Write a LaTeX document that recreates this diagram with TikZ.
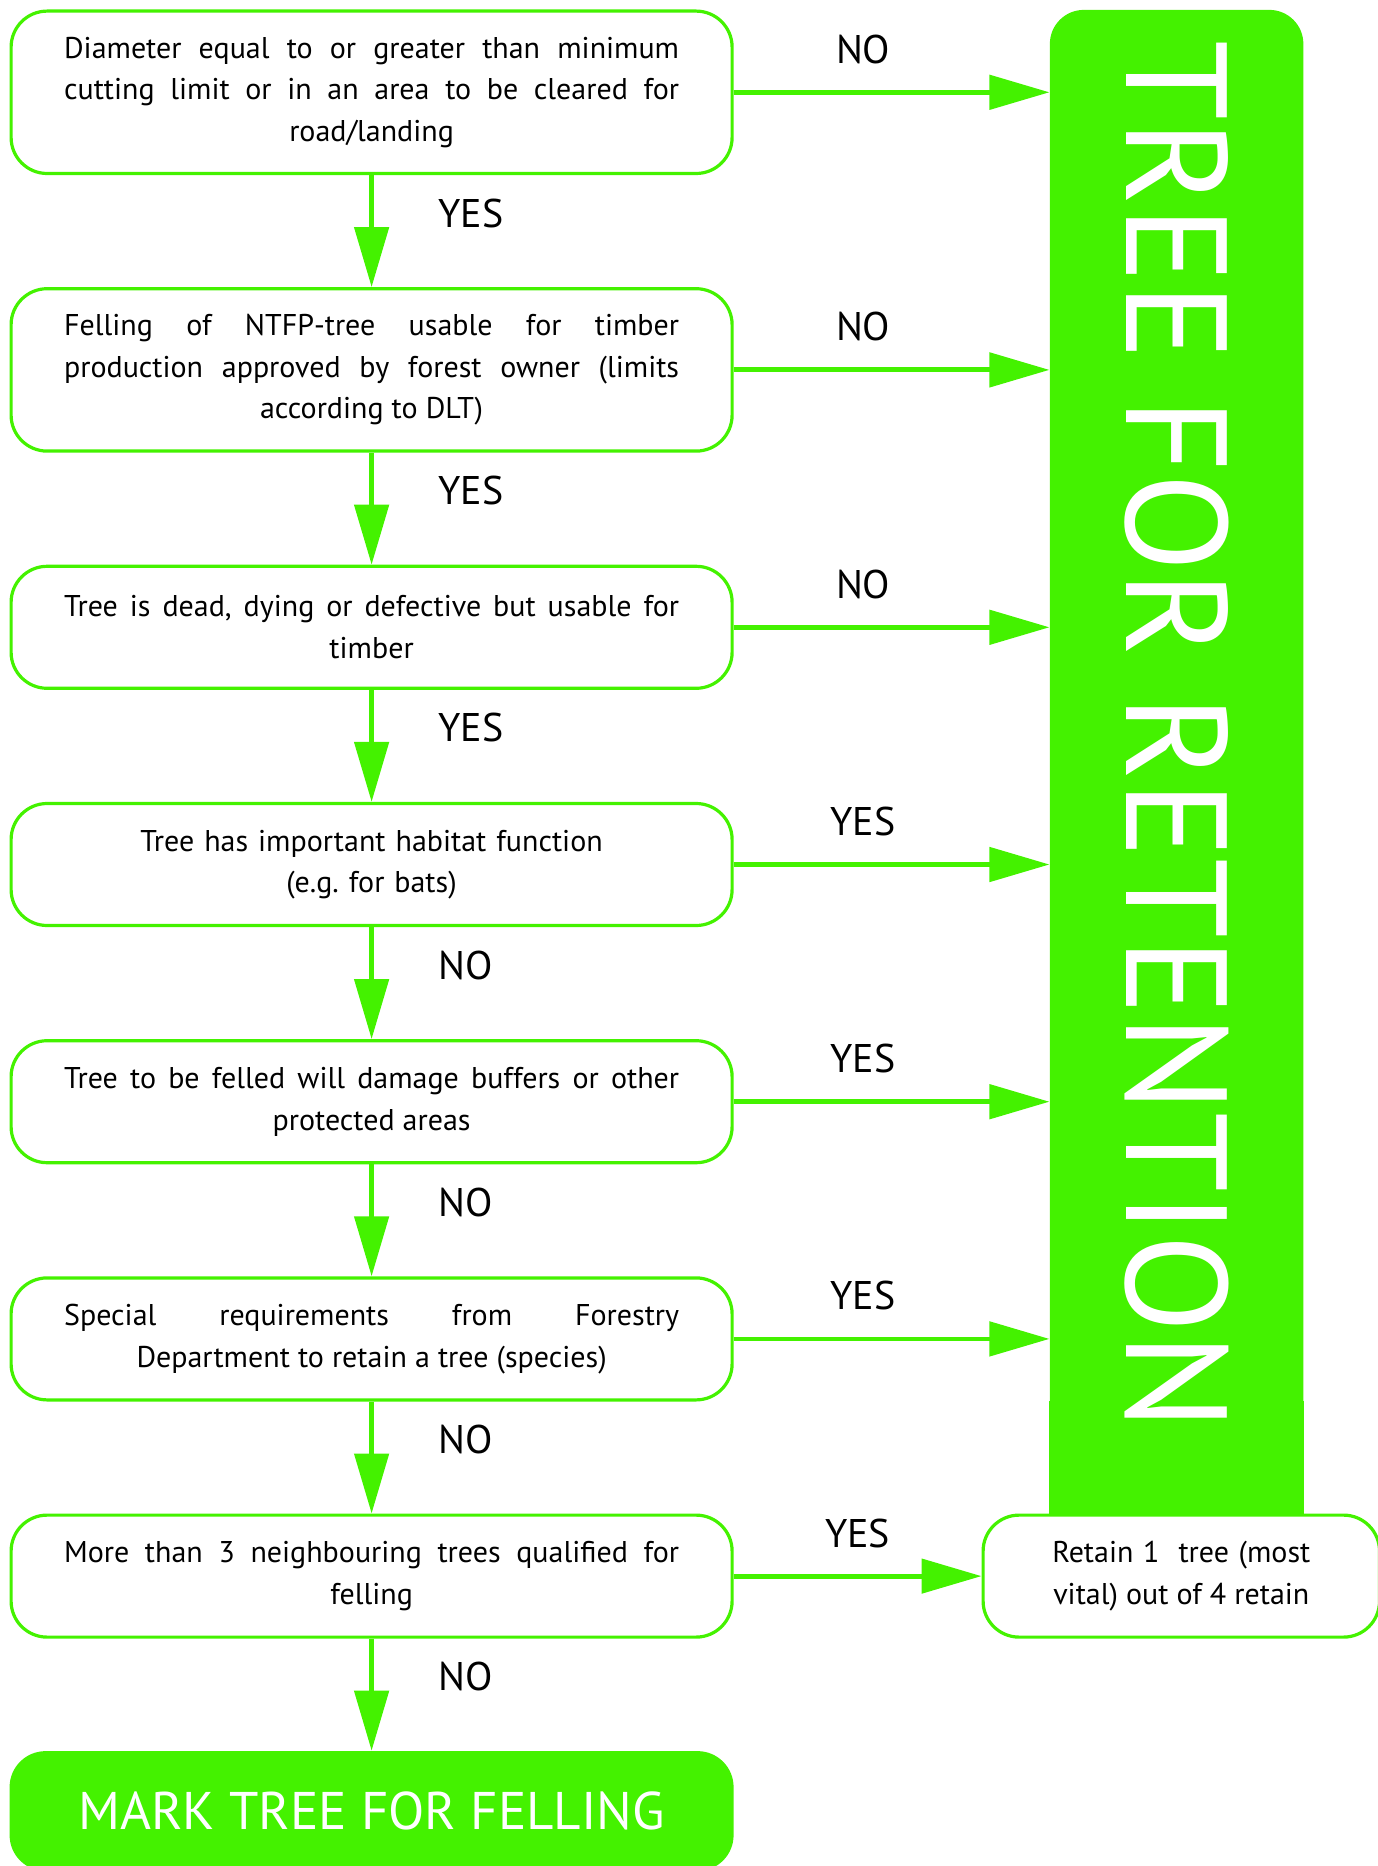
\documentclass[tikz,border=0pt]{standalone}
\usepackage{fontspec}
\setmainfont{PT Sans}
\usepackage{tikz}
\usetikzlibrary{shapes.geometric, arrows.meta, positioning, backgrounds}
\usepackage{xcolor}
\frenchspacing
\definecolor{leafgreen}{RGB}{68,242,0}
\newcommand{\justcentred}[1]{\parindent=0pt\spaceskip=0.27em plus 1em minus 0.08em\leftskip=0pt plus 1fil\rightskip=0pt plus -1fil\parfillskip=0pt plus 2fil\relax#1\par}
\tikzstyle{flowbox} = [rectangle, rounded corners=18pt, draw=leafgreen, line width=1.6pt, fill=white, text width=307.5pt, inner xsep=26.5pt, inner ysep=6pt, minimum height=61pt, font=\fontsize{15pt}{20.8pt}\selectfont]
\tikzstyle{decision} = [flowbox]
\tikzstyle{plainbox} = [flowbox, align=center]
\tikzstyle{retainbox} = [flowbox, text width=129pt, inner xsep=34.6pt]
\tikzstyle{finalbox} = [rectangle, rounded corners=18pt, fill=leafgreen, text=white, minimum width=362pt, minimum height=60pt, font=\fontsize{26.5pt}{30pt}\selectfont]
\tikzstyle{retainbar} = [rectangle, rounded corners=17pt, fill=leafgreen, text=white, minimum width=126.75pt, font=\fontsize{72pt}{80pt}\selectfont]
\tikzstyle{answer} = [font=\fontsize{20pt}{24pt}\selectfont]
\tikzstyle{arrow} = [line width=2.4pt, draw=leafgreen, -{Triangle[length=30pt,width=17pt]}]

\begin{document}
\begin{tikzpicture}[node distance=56pt]
\useasboundingbox (0,0) rectangle (688.5pt,-933pt);

\node (diameter) [decision, minimum height=81.2pt, anchor=north west] at (4.75pt,-4.75pt) {\justcentred{Diameter equal to or greater than minimum\linebreak cutting limit or in an area to be cleared for\linebreak road/landing}};
\node (ntfp) [decision, minimum height=81.2pt, below=of diameter] {\justcentred{Felling of NTFP-tree usable for timber\linebreak production approved by forest owner (limits\linebreak according to DLT)}};
\node (dead) [decision, below=of ntfp] {\justcentred{Tree is dead, dying or defective but usable for\linebreak timber}};
\node (habitat) [plainbox, below=of dead] {Tree has important habitat function\\(e.g. for bats)};
\node (buffer) [decision, below=of habitat] {\justcentred{Tree to be felled will damage buffers or other\linebreak protected areas}};
\node (special) [decision, below=of buffer] {\justcentred{Special requirements from Forestry\linebreak Department to retain a tree (species)}};
\node (neighbour) [decision, below=of special] {\justcentred{More than 3 neighbouring trees qualified for\linebreak felling}};
\node (felling) [finalbox, below=of neighbour] {MARK TREE FOR FELLING};

\node (retention) [retainbar, minimum height=725.5pt, anchor=north] at (588.3pt,-4.75pt) {\rotatebox{-90}{TREE FOR RETENTION}};
\begin{scope}[on background layer]
\fill [leafgreen] ([yshift=30pt]retention.south west) rectangle (retention.east |- neighbour.center);
\end{scope}
\node (retain) [retainbox, right=123.9pt of neighbour] {\justcentred{Retain 1~ tree (most\linebreak vital) out of 4 retain}};

\draw [arrow] (diameter) -- node[answer, anchor=west, xshift=29pt, yshift=9pt] {YES} (ntfp);
\draw [arrow] (ntfp) -- node[answer, anchor=west, xshift=29pt, yshift=9pt] {YES} (dead);
\draw [arrow] (dead) -- node[answer, anchor=west, xshift=29pt, yshift=9pt] {YES} (habitat);
\draw [arrow] (habitat) -- node[answer, anchor=west, xshift=29pt, yshift=9pt] {NO} (buffer);
\draw [arrow] (buffer) -- node[answer, anchor=west, xshift=29pt, yshift=9pt] {NO} (special);
\draw [arrow] (special) -- node[answer, anchor=west, xshift=29pt, yshift=9pt] {NO} (neighbour);
\draw [arrow] (neighbour) -- node[answer, anchor=west, xshift=29pt, yshift=9pt] {NO} (felling);

\draw [arrow] (diameter) -- node[answer, pos=.41, yshift=21.5pt] {NO} (diameter -| retention.west);
\draw [arrow] (ntfp) -- node[answer, pos=.41, yshift=21.5pt] {NO} (ntfp -| retention.west);
\draw [arrow] (dead) -- node[answer, pos=.41, yshift=21.5pt] {NO} (dead -| retention.west);
\draw [arrow] (habitat) -- node[answer, pos=.41, yshift=21.5pt] {YES} (habitat -| retention.west);
\draw [arrow] (buffer) -- node[answer, pos=.41, yshift=21.5pt] {YES} (buffer -| retention.west);
\draw [arrow] (special) -- node[answer, pos=.41, yshift=21.5pt] {YES} (special -| retention.west);
\draw [arrow] (neighbour) -- node[answer, midway, yshift=21.5pt] {YES} (retain);

\end{tikzpicture}
\end{document}
